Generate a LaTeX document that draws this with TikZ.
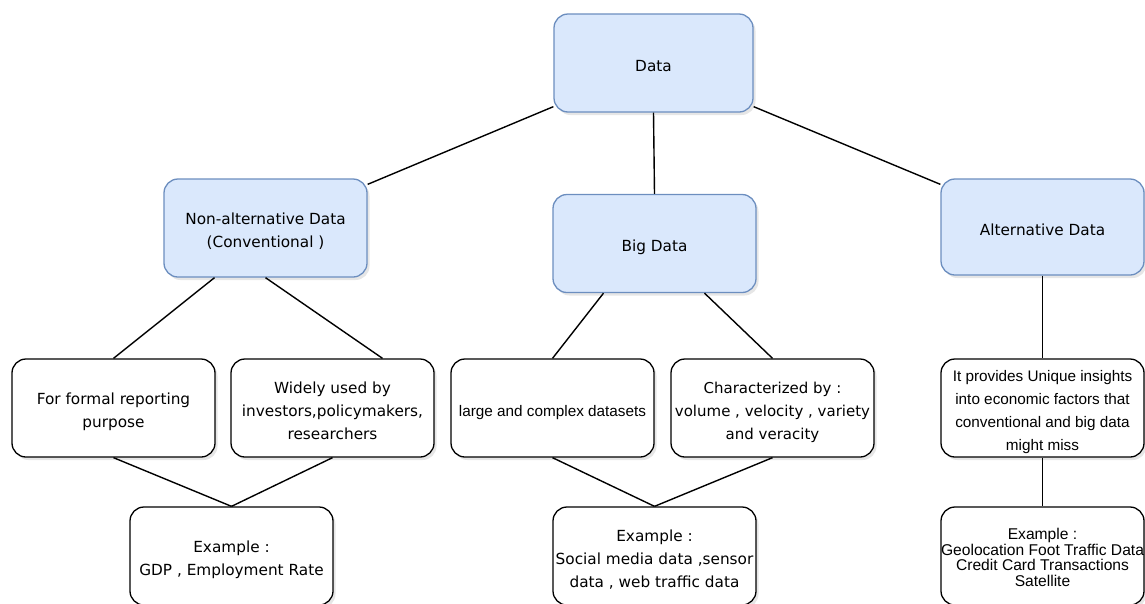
\documentclass[tikz,border=0pt]{standalone}
\usepackage{fontspec}
\setmainfont{DejaVu Sans}
\newfontfamily\helv{Liberation Sans}
\usetikzlibrary{shadows,calc}
\definecolor{boxblue}{HTML}{DAE8FC}
\definecolor{edgeblue}{HTML}{6C8EBF}
% centred lines of text, set a little below the box centre
\newcommand\boxtext[1]{\raisebox{-3.5pt}[\height][\depth]{\begin{tabular}{@{}c@{}}#1\end{tabular}}}

\begin{document}
\begin{tikzpicture}[x=1pt,y=-1pt,
  base/.style={rectangle, rounded corners=14pt, minimum width=203pt,
    minimum height=98pt, align=center, line width=1.3pt, inner sep=1pt,
    font=\fontsize{15.3}{23}\selectfont,
    drop shadow={shadow xshift=2.5pt, shadow yshift=-3pt, opacity=0.2}},
  topbox/.style={base, draw=edgeblue, fill=boxblue},
  leafbox/.style={base, draw=black, fill=white},
  helvtext/.style={font=\helv\fontsize{15.3}{22.7}\selectfont},
  link/.style={draw=black, line width=1.4pt}]

\useasboundingbox (0,0) rectangle (1145,603);

% top level
\node[topbox, minimum width=199pt] (data) at (653.5,63) {\boxtext{Data}};

% categories
\node[topbox] (nonalt) at (265.5,228) {\boxtext{Non-alternative Data\\(Conventional )}};
\node[topbox] (big) at (654.5,243.5) {\boxtext{Big Data}};
\node[topbox, minimum height=96pt] (alt) at (1042.5,227) {\boxtext{Alternative Data}};

% descriptions
\node[leafbox] (formal) at (113.5,408) {\boxtext{For formal reporting\\purpose}};
\node[leafbox] (widely) at (332.5,408) {\boxtext{Widely used by\\investors,policymakers,\\researchers}};
\node[leafbox, helvtext] (large) at (552.5,408) {\boxtext{large and complex datasets}};
\node[leafbox, font=\fontsize{15}{23}\selectfont] (chars) at (772.5,408) {\boxtext{Characterized by :\\volume , velocity , variety\\and veracity}};
\node[leafbox, helvtext] (insights) at (1042.5,408) {\boxtext{It provides Unique insights\\into economic factors that\\conventional and big data\\might miss}};

% examples
\node[leafbox] (ex1) at (231.5,556) {\boxtext{Example :\\GDP , Employment Rate}};
\node[leafbox] (ex2) at (654.5,556) {\boxtext{Example :\\Social media data ,sensor\\data , web traffic data}};
\node[leafbox, font=\helv\fontsize{15.6}{14.5}\selectfont, inner sep=0pt] (ex3) at (1042.5,556)
  {\boxtext{Example :\\Geolocation Foot Traffic Data\\Credit Card Transactions\\Satellite}};

% connectors
\draw[link] ($(data.south west)+(0pt,6pt)$) -- ($(nonalt.north east)+(0pt,-6pt)$);
\draw[link] (data.south) -- (big.north);
\draw[link] ($(data.south east)+(0pt,6pt)$) -- ($(alt.north west)+(0pt,-6pt)$);

\draw[link] ($(nonalt.south)+(-51pt,0pt)$) -- (formal.north);
\draw[link] (nonalt.south) -- ($(widely.north)+(50pt,0pt)$);
\draw[link] ($(big.south)+(-51pt,0pt)$) -- (large.north);
\draw[link] ($(big.south)+(50pt,0pt)$) -- (chars.north);
\draw[link] (alt.south) -- (insights.north);

\draw[link] (formal.south) -- (ex1.north);
\draw[link] (widely.south) -- (ex1.north);
\draw[link] (large.south) -- (ex2.north);
\draw[link] (chars.south) -- (ex2.north);
\draw[link] (insights.south) -- (ex3.north);
\end{tikzpicture}
\end{document}
